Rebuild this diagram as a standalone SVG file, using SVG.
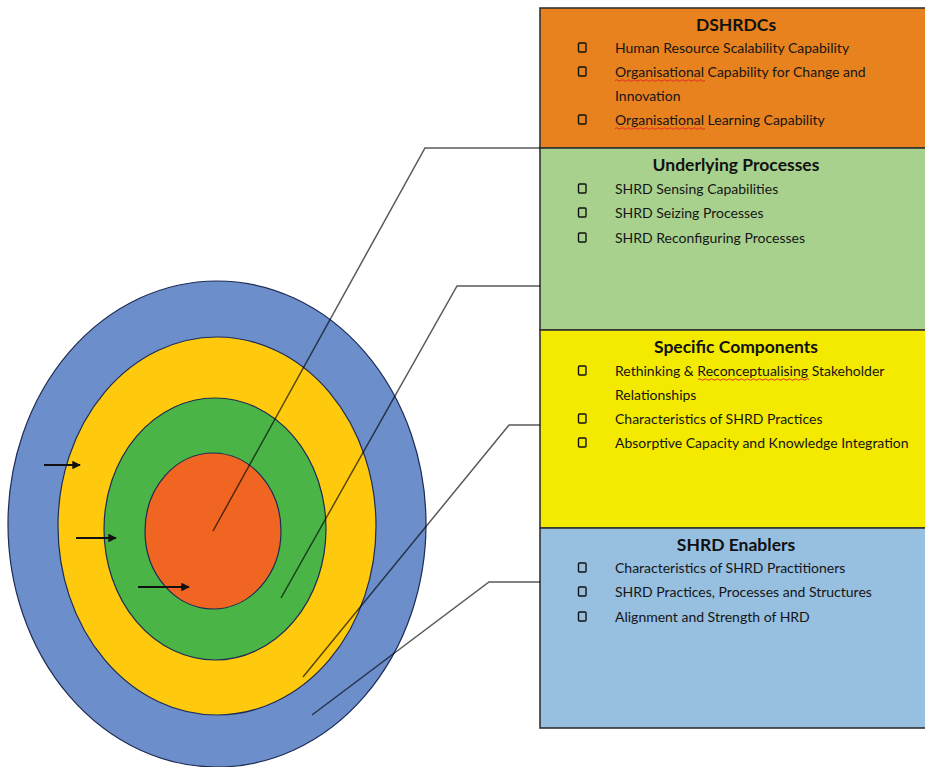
<svg xmlns="http://www.w3.org/2000/svg" width="925" height="767" viewBox="0 0 925 767">
  <defs>
    <marker id="arrowhead" viewBox="0 0 10 10" refX="9" refY="5" markerWidth="4.5" markerHeight="4.5" orient="auto" markerUnits="strokeWidth">
      <path d="M0,0 L10,5 L0,10 Z" fill="#111"/>
    </marker>
    <style>
      .ring { stroke: #1d2b55; stroke-width: 1.2; }
      .box { stroke: #333; stroke-width: 1.6; }
      .title { font-family: Lato, "Liberation Sans", sans-serif; font-weight: bold; font-size: 17.5px; fill: #111; text-anchor: middle; }
      .item { font-family: Lato, "Liberation Sans", sans-serif; font-size: 14px; fill: #151515; }
      .bullet { fill: none; stroke: #111; stroke-width: 1.4; }
      .leader { fill: none; stroke: #000; stroke-opacity: 0.65; stroke-width: 1.5; }
      .flow { stroke: #111; stroke-width: 1.9; marker-end: url(#arrowhead); }
      .squiggle { fill: none; stroke: #e02020; stroke-width: 0.9; }
    </style>
  </defs>

  <rect width="925" height="767" fill="#fff"/>

  <!-- concentric layers -->
  <g id="layer-enablers"><ellipse class="ring" cx="217" cy="524" rx="209" ry="243" fill="#6c8fcb"/></g>
  <g id="layer-components"><ellipse class="ring" cx="217" cy="526" rx="159" ry="189" fill="#ffc90e"/></g>
  <g id="layer-processes"><ellipse class="ring" cx="215" cy="529" rx="111" ry="131" fill="#4bb446"/></g>
  <g id="layer-dshrdcs"><ellipse class="ring" cx="213" cy="531" rx="68" ry="78" fill="#f06522"/></g>

  <!-- inward arrows -->
  <g id="flow-arrows">
    <line class="flow" x1="44" y1="465" x2="80" y2="465"/>
    <line class="flow" x1="76" y1="538" x2="116" y2="538"/>
    <line class="flow" x1="138" y1="587" x2="189" y2="587"/>
  </g>

  <!-- panels -->
  <g id="box-dshrdcs">
    <rect class="box" x="540" y="8" width="400" height="140" fill="#e8821f"/>
    <text class="title" x="736" y="31">DSHRDCs</text>
    <rect class="bullet" x="578.5" y="43" width="7.5" height="9" rx="1"/>
    <text class="item" x="615" y="53">Human Resource Scalability Capability</text>
    <rect class="bullet" x="578.5" y="67" width="7.5" height="9" rx="1"/>
    <text class="item" x="615" y="77">Organisational Capability for Change and</text>
    <text class="item" x="615" y="101">Innovation</text>
    <rect class="bullet" x="578.5" y="115" width="7.5" height="9" rx="1"/>
    <text class="item" x="615" y="125">Organisational Learning Capability</text>
    <path class="squiggle" d="M615,80.5 q1.5,-1.5 3,0 t3,0 t3,0 t3,0 t3,0 t3,0 t3,0 t3,0 t3,0 t3,0 t3,0 t3,0 t3,0 t3,0 t3,0 t3,0 t3,0 t3,0 t3,0 t3,0 t3,0 t3,0 t3,0 t3,0 t3,0 t3,0 t3,0 t3,0 t3,0 t3,0"/>
    <path class="squiggle" d="M615,128.5 q1.5,-1.5 3,0 t3,0 t3,0 t3,0 t3,0 t3,0 t3,0 t3,0 t3,0 t3,0 t3,0 t3,0 t3,0 t3,0 t3,0 t3,0 t3,0 t3,0 t3,0 t3,0 t3,0 t3,0 t3,0 t3,0 t3,0 t3,0 t3,0 t3,0 t3,0 t3,0"/>
  </g>

  <g id="box-processes">
    <rect class="box" x="540" y="148" width="400" height="182" fill="#a9d18e"/>
    <text class="title" x="736" y="171">Underlying Processes</text>
    <rect class="bullet" x="578.5" y="184" width="7.5" height="9" rx="1"/>
    <text class="item" x="615" y="194">SHRD Sensing Capabilities</text>
    <rect class="bullet" x="578.5" y="208" width="7.5" height="9" rx="1"/>
    <text class="item" x="615" y="218">SHRD Seizing Processes</text>
    <rect class="bullet" x="578.5" y="233" width="7.5" height="9" rx="1"/>
    <text class="item" x="615" y="243">SHRD Reconfiguring Processes</text>
  </g>

  <g id="box-components">
    <rect class="box" x="540" y="330" width="400" height="198" fill="#f3ea00"/>
    <text class="title" x="736" y="353">Specific Components</text>
    <rect class="bullet" x="578.5" y="366" width="7.5" height="9" rx="1"/>
    <text class="item" x="615" y="376">Rethinking &amp; Reconceptualising Stakeholder</text>
    <text class="item" x="615" y="400">Relationships</text>
    <rect class="bullet" x="578.5" y="414" width="7.5" height="9" rx="1"/>
    <text class="item" x="615" y="424">Characteristics of SHRD Practices</text>
    <rect class="bullet" x="578.5" y="438" width="7.5" height="9" rx="1"/>
    <text class="item" x="615" y="448">Absorptive Capacity and Knowledge Integration</text>
    <path class="squiggle" d="M698,379.5 q1.5,-1.5 3,0 t3,0 t3,0 t3,0 t3,0 t3,0 t3,0 t3,0 t3,0 t3,0 t3,0 t3,0 t3,0 t3,0 t3,0 t3,0 t3,0 t3,0 t3,0 t3,0 t3,0 t3,0 t3,0 t3,0 t3,0 t3,0 t3,0 t3,0 t3,0 t3,0 t3,0 t3,0 t3,0 t3,0 t3,0 t3,0 t3,0"/>
  </g>

  <g id="box-enablers">
    <rect class="box" x="540" y="528" width="400" height="200" fill="#97bfe0"/>
    <text class="title" x="736" y="551">SHRD Enablers</text>
    <rect class="bullet" x="578.5" y="563" width="7.5" height="9" rx="1"/>
    <text class="item" x="615" y="573">Characteristics of SHRD Practitioners</text>
    <rect class="bullet" x="578.5" y="587" width="7.5" height="9" rx="1"/>
    <text class="item" x="615" y="597">SHRD Practices, Processes and Structures</text>
    <rect class="bullet" x="578.5" y="612" width="7.5" height="9" rx="1"/>
    <text class="item" x="615" y="622">Alignment and Strength of HRD</text>
  </g>

  <!-- leader lines from each layer to its panel -->
  <g id="connectors">
    <polyline class="leader" points="213,531 425,148 540,148"/>
    <polyline class="leader" points="281,598 457,286 540,286"/>
    <polyline class="leader" points="303,677 509,425 540,425"/>
    <polyline class="leader" points="312,715 489,582 540,582"/>
  </g>
</svg>
